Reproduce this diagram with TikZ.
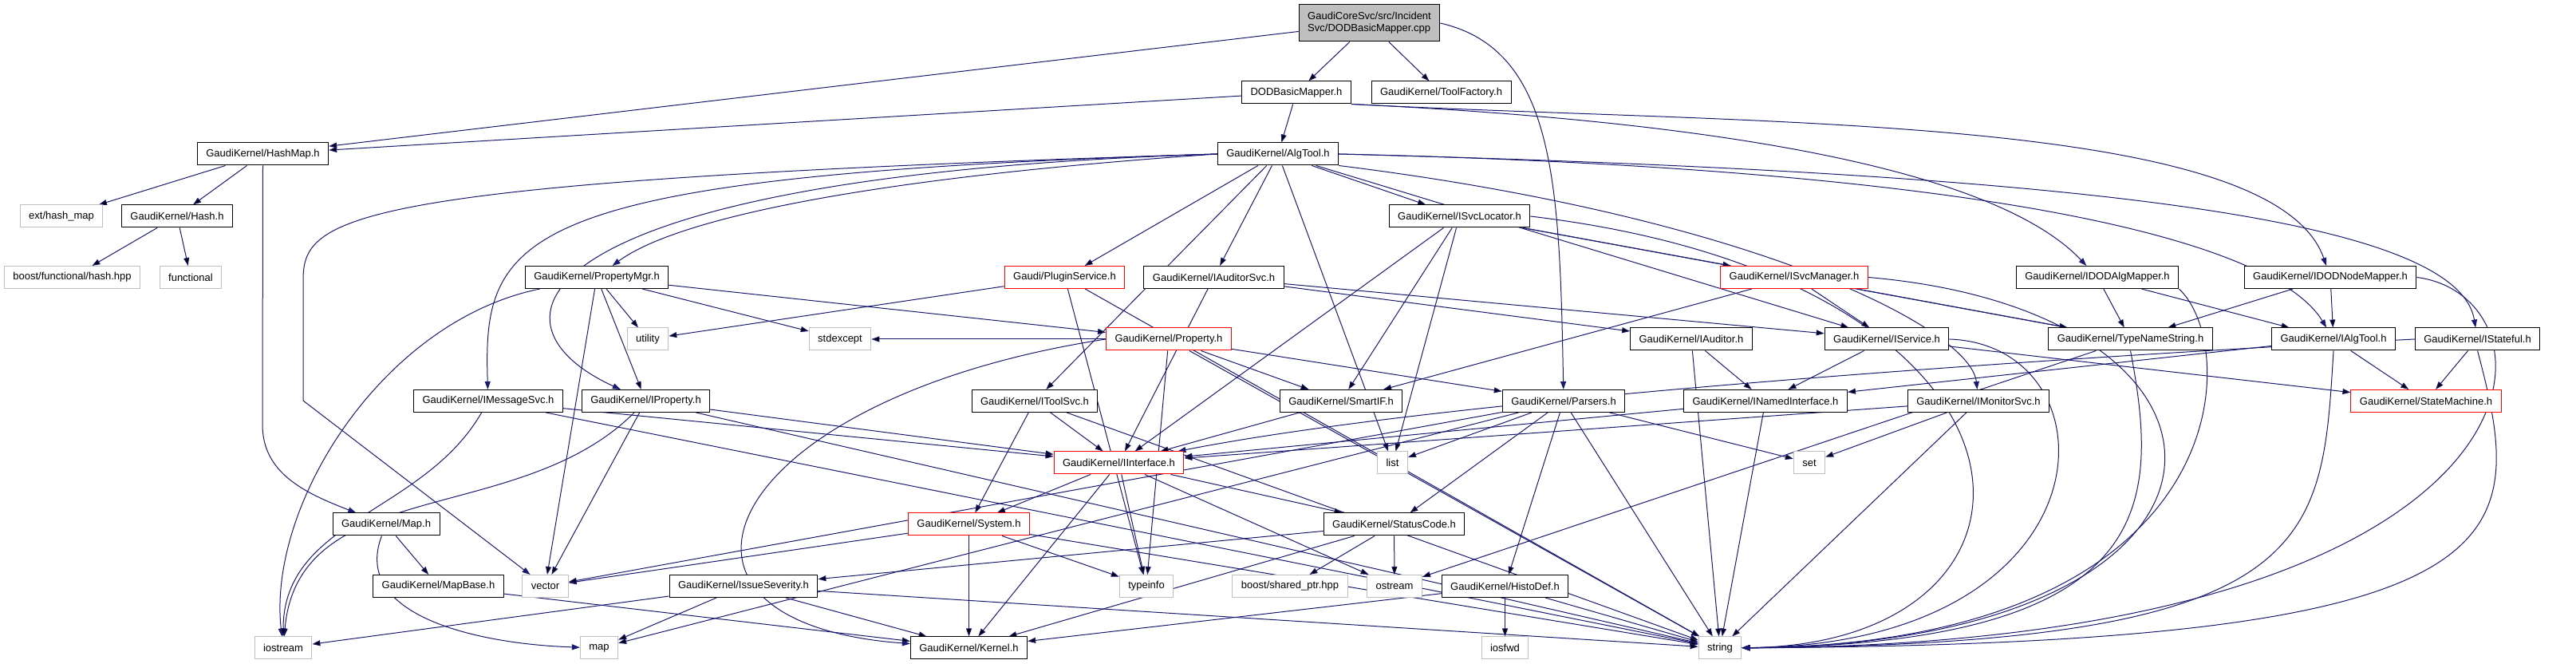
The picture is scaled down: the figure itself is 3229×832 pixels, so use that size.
\documentclass[tikz,border=0pt]{standalone}
\usepackage{fontspec}
\setmainfont{Liberation Sans}
\usetikzlibrary{arrows.meta,backgrounds}
\definecolor{edgeblue}{RGB}{25,25,112}
\definecolor{sysgray}{RGB}{191,191,191}
\begin{document}
\begin{tikzpicture}[x=0.25pt,y=0.25pt,
  hdr/.style={draw=black,fill=white,line width=0.25pt,minimum height=7pt,inner xsep=2.75pt,inner ysep=0pt,font=\fontsize{3.25}{3.75}\selectfont},
  sys/.style={hdr,draw=sysgray},
  trunc/.style={hdr,draw=red},
  dep/.style={draw=edgeblue,line width=0.25pt,-{Triangle[length=2.5pt,width=1.75pt]}}]
\useasboundingbox (0,0) rectangle (3229,832);
% headers
\node[hdr,fill=sysgray,align=left,minimum height=11.5pt] (root) at (1716.5,803) {GaudiCoreSvc/src/Incident\\Svc/DODBasicMapper.cpp};
\node[hdr] (dodh) at (1625,716) {DODBasicMapper.h};
\node[hdr] (toolf) at (1806.5,716) {GaudiKernel/ToolFactory.h};
\node[hdr] (hashmap) at (329.5,639) {GaudiKernel/HashMap.h};
\node[hdr] (algtool) at (1602,639) {GaudiKernel/AlgTool.h};
\node[sys] (exthash) at (77,561) {ext/hash\_map};
\node[hdr] (hash) at (222,561) {GaudiKernel/Hash.h};
\node[hdr] (svcloc) at (1829.5,561) {GaudiKernel/ISvcLocator.h};
\node[sys] (boosthash) at (90.5,484.5) {boost/functional/hash.hpp};
\node[sys] (functional) at (239,484.5) {functional};
\node[hdr] (propmgr) at (748,484.5) {GaudiKernel/PropertyMgr.h};
\node[trunc] (plugin) at (1334.5,484.5) {Gaudi/PluginService.h};
\node[hdr] (audsvc) at (1521.5,484.5) {GaudiKernel/IAuditorSvc.h};
\node[trunc] (svcmgr) at (2249,484.5) {GaudiKernel/ISvcManager.h};
\node[hdr] (dodalg) at (2629,484.5) {GaudiKernel/IDODAlgMapper.h};
\node[hdr] (dodnode) at (2921,484.5) {GaudiKernel/IDODNodeMapper.h};
\node[sys] (utility) at (812,407) {utility};
\node[sys] (stdexcept) at (1053,407) {stdexcept};
\node[trunc] (property) at (1465,407) {GaudiKernel/Property.h};
\node[hdr] (auditor) at (2120,407) {GaudiKernel/IAuditor.h};
\node[hdr] (service) at (2365,407) {GaudiKernel/IService.h};
\node[hdr] (typename) at (2670.5,407) {GaudiKernel/TypeNameString.h};
\node[hdr] (ialgtool) at (2925,407) {GaudiKernel/IAlgTool.h};
\node[hdr] (stateful) at (3105.5,407) {GaudiKernel/IStateful.h};
\node[hdr] (msgsvc) at (612,329.5) {GaudiKernel/IMessageSvc.h};
\node[hdr] (iprop) at (809.5,329.5) {GaudiKernel/IProperty.h};
\node[hdr] (toolsvc) at (1297,329.5) {GaudiKernel/IToolSvc.h};
\node[hdr] (smartif) at (1681,329.5) {GaudiKernel/SmartIF.h};
\node[hdr] (parsers) at (1960,329.5) {GaudiKernel/Parsers.h};
\node[hdr] (named) at (2213,329.5) {GaudiKernel/INamedInterface.h};
\node[hdr] (monitor) at (2480,329.5) {GaudiKernel/IMonitorSvc.h};
\node[trunc] (statemach) at (3041,329.5) {GaudiKernel/StateMachine.h};
\node[trunc] (iface) at (1402.5,252) {GaudiKernel/IInterface.h};
\node[sys] (list) at (1745.5,252) {list};
\node[sys] (set) at (2268,252) {set};
\node[hdr] (mapH) at (484,175) {GaudiKernel/Map.h};
\node[trunc] (system) at (1214.5,175) {GaudiKernel/System.h};
\node[hdr] (status) at (1747.5,175) {GaudiKernel/StatusCode.h};
\node[hdr] (mapbase) at (549.5,97.5) {GaudiKernel/MapBase.h};
\node[sys] (vector) at (683.5,97.5) {vector};
\node[hdr] (issue) at (932,97.5) {GaudiKernel/IssueSeverity.h};
\node[sys] (typeinfo) at (1437,97.5) {typeinfo};
\node[sys] (sharedptr) at (1617,97.5) {boost/shared\_ptr.hpp};
\node[sys] (ostream) at (1748,97.5) {ostream};
\node[hdr] (histodef) at (1886.5,97.5) {GaudiKernel/HistoDef.h};
\node[sys] (iostream) at (355,20) {iostream};
\node[sys] (map) at (751,20) {map};
\node[hdr] (kernel) at (1214.5,20) {GaudiKernel/Kernel.h};
\node[sys] (iosfwd) at (1886.5,20) {iosfwd};
\node[sys] (string) at (2156,20) {string};
% includes
\begin{pgfonlayer}{background}
\path[dep] (root) edge (dodh) edge (toolf) edge (hashmap);
\draw[dep] (root.east) .. controls (1950,770) and (1955,600) .. (parsers);
\path[dep] (dodh) edge (hashmap) edge (algtool);
\draw[dep] (dodh.south east) .. controls (2250,675) and (2520,600) .. (dodalg);
\draw[dep] (dodh.south east) .. controls (2200,675) and (2850,690) .. (dodnode);
\path[dep] (hashmap) edge (exthash) edge (hash);
\draw[dep] (hashmap.south) -- (329,300) .. controls (329,240) and (380,215) .. (mapH);
\path[dep] (hash) edge (boosthash) edge (functional);
\path[dep] (mapH) edge (mapbase);
\draw[dep] (mapH) .. controls (440,60) and (600,25) .. (map);
\path[dep] (mapbase) edge (kernel);
\draw[dep] (algtool.west) .. controls (420,605) and (380,560) .. (380,480) -- (380,330) -- (vector);
\draw[dep] (algtool.west) .. controls (640,612) and (605,540) .. (msgsvc);
\draw[dep] (algtool.west) .. controls (1100,610) and (850,560) .. (propmgr);
\draw[dep] (algtool.west) .. controls (660,612) and (590,430) .. (iprop);
\path[dep] (algtool) edge (plugin) edge (audsvc) edge (toolsvc) edge (svcloc) edge (list) edge (service);
\draw[dep] (algtool.south east) .. controls (2200,560) and (2470,420) .. (monitor);
\draw[dep] (algtool.east) .. controls (2500,620) and (2850,530) .. (ialgtool);
\draw[dep] (algtool.east) .. controls (2600,615) and (3080,560) .. (stateful);
\path[dep] (svcloc) edge (iface) edge (smartif) edge (list) edge (svcmgr) edge (typename);
\draw[dep] (svcloc.east) .. controls (2600,480) and (2607,25) .. (string);
\path[dep] (svcmgr) edge (service) edge (smartif) edge (typename);
\draw[dep] (svcmgr.east) .. controls (2860,440) and (2860,25) .. (string);
\draw[dep] (propmgr) .. controls (480,430) and (335,200) .. (iostream);
\path[dep] (propmgr) edge (iprop) edge (vector) edge (utility) edge (stdexcept) edge (property);
\path[dep] (plugin) edge (utility) edge (typeinfo) edge (string);
\path[dep] (audsvc) edge (service) edge (auditor) edge (iface);
\path[dep] (property) edge (stdexcept) edge (typeinfo) edge (smartif) edge (parsers) edge (string);
\draw[dep] (property.west) .. controls (900,332) and (780,52) .. (kernel);
\path[dep] (toolsvc) edge (iface) edge (system) edge (string);
\path[dep] (iprop) edge (iface) edge (string) edge (vector) edge[out=-135,in=85] (iostream);
\path[dep] (msgsvc) edge[out=-120,in=90] (iostream) edge (iface) edge (string);
\path[dep] (iface) edge (system) edge (kernel) edge (typeinfo) edge (status) edge (ostream);
\path[dep] (system) edge (kernel) edge (typeinfo) edge (string) edge (vector);
\path[dep] (status) edge (sharedptr) edge (ostream) edge (issue) edge (kernel);
\path[dep] (issue) edge (kernel) edge (string) edge (map) edge (iostream);
\path[dep] (histodef) edge (iosfwd) edge (string) edge (kernel);
\path[dep] (parsers) edge (list) edge (string) edge (set) edge (status) edge (histodef) edge (vector) edge (map);
\path[dep] (smartif) edge (iface);
\path[dep] (named) edge (iface) edge (string);
\path[dep] (auditor) edge (named) edge (string);
\path[dep] (service) edge (named) edge (statemach);
\draw[dep] (service.east) .. controls (2656,400) and (2656,25) .. (string);
\path[dep] (monitor) edge (iface) edge (set) edge (string);
\path[dep] (ialgtool) edge (named) edge (statemach);
\draw[dep] (ialgtool.south) .. controls (2910,150) and (2910,25) .. (string);
\path[dep] (stateful) edge (statemach);
\draw[dep] (stateful.south) .. controls (3170,150) and (3170,25) .. (string);
\draw[dep] (stateful.west) .. controls (2500,380) and (1800,330) .. (iface);
\path[dep] (dodalg) edge (typename) edge (ialgtool);
\draw[dep] (dodalg.south east) .. controls (2809,400) and (2809,25) .. (string);
\path[dep] (dodnode) edge (typename) edge (ialgtool);
\draw[dep] (dodnode.east) .. controls (3222,460) and (3222,25) .. (string);
\path[dep] (typename) edge (ostream);
\draw[dep] (typename.south) .. controls (2707,200) and (2707,25) .. (string);
\end{pgfonlayer}
\end{tikzpicture}
\end{document}
